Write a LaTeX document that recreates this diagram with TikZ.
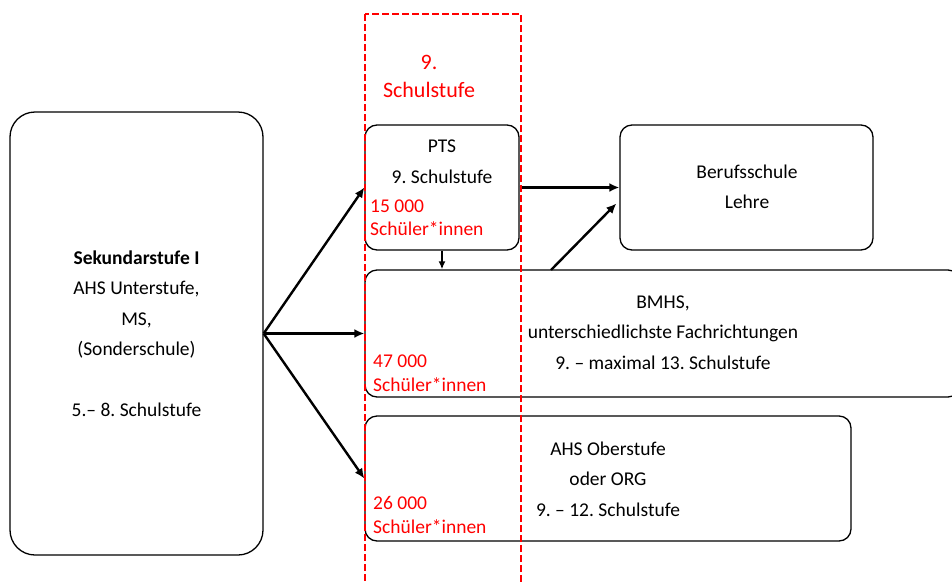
\documentclass[tikz,border=0pt]{standalone}
\usepackage{fontspec}
\setmainfont{Carlito}
\frenchspacing
\usetikzlibrary{arrows.meta,calc}
\tikzset{
  box/.style={draw, line width=1.3pt, rounded corners=12pt, inner sep=0pt},
  txt/.style={align=center, font=\fontsize{19.5}{30.5}\selectfont},
  zahl/.style={align=left, anchor=west, text=red, inner sep=0pt, font=\fontsize{19.5}{23.5}\selectfont},
  pfeil/.style={line width=2.4pt, -{Latex[length=10pt,width=9pt]}},
}
\begin{document}
\begin{tikzpicture}[x=1pt, y=-1pt]
			%%%%% START %%%%%
			\useasboundingbox (0,0) rectangle (952,581);
			
			% Kaestchen
			\node[box, rounded corners=25pt, minimum width=253pt, minimum height=443pt] (sek) at (136.5,333.5) {};
			\node[box, minimum width=154pt, minimum height=125pt] (pts) at (442,187.5) {};
			\node[box, minimum width=253pt, minimum height=125pt] (beruf) at (746.5,187.5) {};
			\node[box, minimum width=595pt, minimum height=127pt] (bmhs) at (662.5,333.5) {};
			\node[box, minimum width=486pt, minimum height=125pt] (ahs) at (608,478.5) {};
			
			% Texte
			\node[txt] (sektxt) at (136.5,333.5) {\textbf{Sekundarstufe I}\\AHS Unterstufe,\\MS,\\(Sonderschule)\\[30.5pt]5.– 8. Schulstufe};
			\node[txt] (ptstxt) at (442,161.5) {PTS\\9. Schulstufe};
			\node[txt] (beruftxt) at (747,187) {Berufsschule\\Lehre};
			\node[txt] (bmhstxt) at (663,332.5) {BMHS,\\unterschiedlichste Fachrichtungen\\9. – maximal 13. Schulstufe};
			\node[txt] (ahstxt) at (608,479) {AHS Oberstufe\\oder ORG\\9. – 12. Schulstufe};
			
			\node[zahl] (ptszahl) at (370,217.5) {15 000\\Schüler*innen};
			\node[zahl] (bmhszahl) at (373,373) {47 000\\Schüler*innen};
			\node[zahl] (ahszahl) at (373,515) {26 000\\Schüler*innen};
			
			% Pfeile
			\draw[pfeil] (sek.east) -- (pts.west);
			\draw[pfeil] (sek.east) -- (bmhs.west);
			\draw[pfeil] (sek.east) -- (ahs.west);
			\draw[pfeil] (pts.east) -- (beruf.west);
			\coordinate (bmhsaus) at (551,270);
			\draw[pfeil] (bmhsaus) -- ([xshift=-3pt,yshift=-16pt]beruf.west);
			\draw[line width=2pt, -{Latex[length=8pt,width=7pt]}] (pts.south) -- (pts.south |- bmhs.north);
			
			% 9. Schulstufe
			\draw[red, line width=2pt, dash pattern=on 7pt off 3pt] (364.5,14) rectangle (520.5,600);
			\node[align=center, text=red, font=\fontsize{22}{28}\selectfont] (stufe) at (429,76) {9.\\Schulstufe};
			%%%%% END %%%%%
\end{tikzpicture}
\end{document}
